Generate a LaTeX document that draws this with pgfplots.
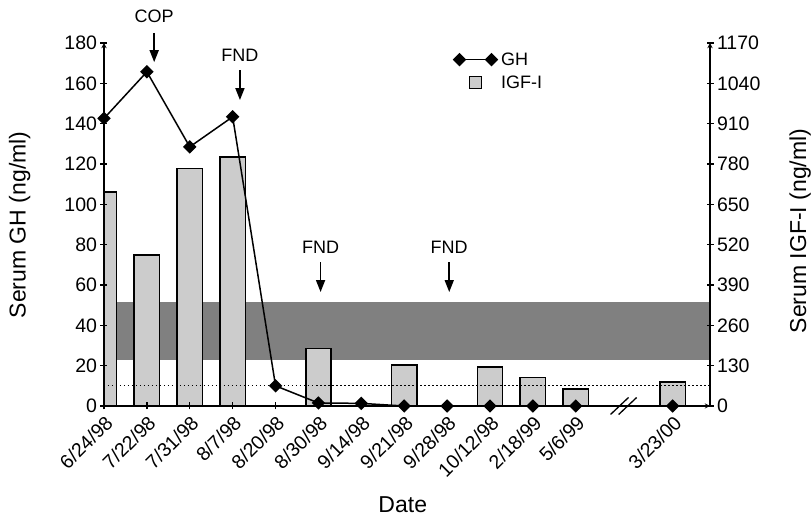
\documentclass[border=0pt]{standalone}
\usepackage{fontspec}
\setmainfont{Liberation Sans}
\usepackage{pgfplots}
\pgfplotsset{compat=1.18}
\usetikzlibrary{arrows.meta,calc}
\definecolor{barfill}{gray}{0.8}
\definecolor{band}{gray}{0.5}
\pgfplotsset{
  ghlegend/.style={legend image code/.code={%
    \draw[##1,mark repeat=2,mark phase=1] plot coordinates {(0pt,0pt) (16pt,0pt) (32pt,0pt)};}},
}
\newcommand{\labfont}{\fontsize{23}{27}\selectfont}
\newcommand{\notefont}{\fontsize{18}{21}\selectfont}

\begin{document}
\begin{tikzpicture}
\pgfplotsset{
  every axis/.append style={
    scale only axis, width=606pt, height=363pt,
    xmin=0, xmax=14.13,
    /pgf/number format/assume math mode=true,
    /pgf/number format/1000 sep={},
    tick label style={font=\fontsize{19.5}{22}\selectfont},
    tick align=outside, major tick length=7pt,
    axis line style={line width=1.3pt,-},
    every tick/.style={black,line width=1.3pt},
  },
}
% IGF-I, right axis, bars and normal range
\begin{axis}[name=igf,
  axis on top,
  axis x line=bottom, axis y line=right,
  ymin=0, ymax=1170, ytick={0,130,...,1170},
  xtick={0,1,2,3,4,5,6,7,8,9,10,11,13.26},
  xticklabels={6/24/98,7/22/98,7/31/98,8/7/98,8/20/98,8/30/98,9/14/98,9/21/98,9/28/98,10/12/98,2/18/99,5/6/99,3/23/00},
  xticklabel style={rotate=45,anchor=north east},
  xlabel={Date},
  ylabel={Serum IGF-I (ng/ml)},
  every axis x label/.style={at={(axis description cs:0.493,-0.273)},anchor=center,font=\labfont},
  every axis y label/.style={at={(axis description cs:1.149,0.482)},anchor=center,rotate=90,font=\labfont},
]
\fill[band] (axis cs:0,148) rectangle (axis cs:14.13,336);
\addplot[ybar, bar width=0.59, fill=barfill, draw=black, line width=1.5pt] coordinates {
  (0,689) (1,487) (2,766) (3,803) (5,186) (7,132) (9,126) (10,92) (11,55) (13.26,78)
};
\end{axis}
% GH, left axis, line
\begin{axis}[
  axis x line=none, axis y line=left,
  ymin=0, ymax=180, ytick={0,20,...,180},
  ylabel={Serum GH (ng/ml)},
  every axis y label/.style={at={(axis description cs:-0.139,0.499)},anchor=center,rotate=90,font=\labfont},
  clip=false,
  legend style={at={(axis description cs:0.572,0.985)}, anchor=north west, draw=none, fill=none,
    font=\notefont, row sep=5pt, nodes={inner xsep=4pt}},
  legend cell align=left,
]
\draw[line width=1.3pt, dash pattern=on 1.5pt off 2.5pt] (axis cs:0,10) -- (axis cs:14.13,10);
\addplot[black, line width=1.5pt, mark=square*, mark size=4pt, mark options={rotate=45}, ghlegend]
  coordinates {
  (0,142.6) (1,165.7) (2,128.5) (3,143.4) (4,10) (5,1.5) (6,1.3) (7,0) (8,0) (9,0) (10,0) (11,0) (13.26,0)
};
\addlegendentry{GH}
\addlegendimage{legend image code/.code={\draw[fill=barfill,draw=black,line width=1.2pt] (10pt,-6pt) rectangle (22pt,6pt);}}
\addlegendentry{IGF-I}
% treatment arrows
\node[font=\notefont] at (axis cs:1.17,193) {COP};
\draw[line width=1.6pt,-{Triangle[width=9pt,length=12pt]}] (axis cs:1.17,185) -- (axis cs:1.17,170.5);
\node[font=\notefont] at (axis cs:3.17,174) {FND};
\draw[line width=1.6pt,-{Triangle[width=9pt,length=12pt]}] (axis cs:3.17,166.6) -- (axis cs:3.17,151.7);
\node[font=\notefont] at (axis cs:5.05,78.8) {FND};
\draw[line width=1.6pt,-{Triangle[width=9pt,length=12pt]}] (axis cs:5.05,71.4) -- (axis cs:5.05,56.5);
\node[font=\notefont] at (axis cs:8.05,78.8) {FND};
\draw[line width=1.6pt,-{Triangle[width=9pt,length=12pt]}] (axis cs:8.05,71.4) -- (axis cs:8.05,56.5);
% axis break
\draw[line width=1.3pt] (axis cs:12.02,0) ++(-9pt,-8.5pt) -- ++(18pt,17pt);
\draw[line width=1.3pt] (axis cs:12.21,0) ++(-9pt,-8.5pt) -- ++(18pt,17pt);
\end{axis}
\pgfresetboundingbox
\path ($(igf.south west)+(-104pt,-112pt)$) rectangle ($(igf.north east)+(102pt,43pt)$);
\end{tikzpicture}
\end{document}
